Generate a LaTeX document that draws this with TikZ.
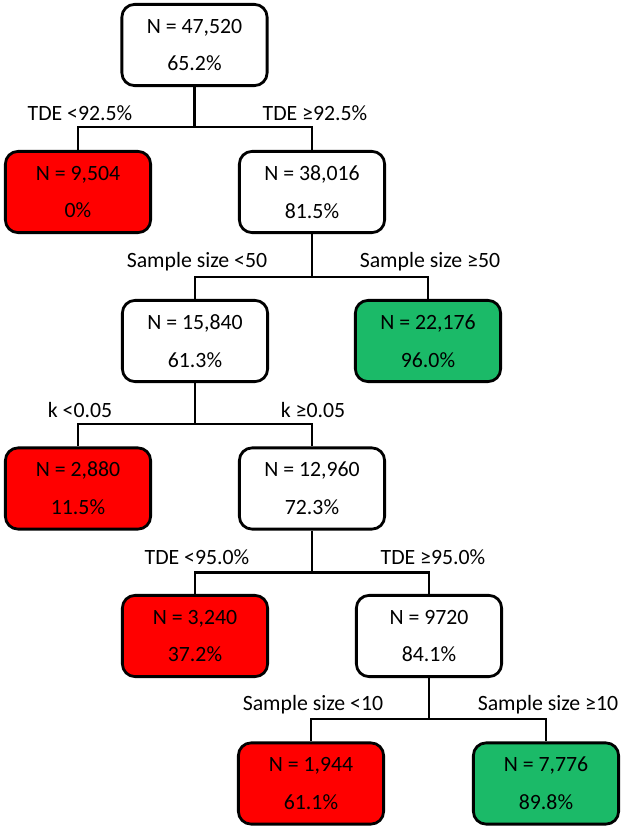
\documentclass[tikz,border=0pt]{standalone}
\usepackage{fontspec}
\setmainfont{Carlito}
\definecolor{leafred}{RGB}{255,0,0}
\definecolor{leafgreen}{RGB}{27,186,104}

\begin{document}
\begin{tikzpicture}[x=0.025cm, y=-0.025cm]
            \useasboundingbox (0,0) rectangle (624,830);
            {
                \tikzset{every node/.style = {font=\fontsize{15.5}{27}\selectfont}}
                \tikzset{split/.style = {draw, line width=2pt, rounded corners=9pt, minimum width=3.63cm, minimum height=2.03cm, align=center, inner sep=0pt}}
                \tikzset{bad/.style = {split, fill=leafred}}
                \tikzset{good/.style = {split, fill=leafgreen}}

                \node[split] (root) at (194.5, 45) {N = 47,520\\65.2\%};
                \node[bad]   (tdelo) at (78, 192) {N = 9,504\\0\%};
                \node[split] (tdehi) at (312, 192) {N = 38,016\\81.5\%};
                \node[split] (sslo) at (195, 341) {N = 15,840\\61.3\%};
                \node[good]  (sshi) at (428, 341) {N = 22,176\\96.0\%};
                \node[bad]   (klo) at (78, 488.5) {N = 2,880\\11.5\%};
                \node[split] (khi) at (312, 488.5) {N = 12,960\\72.3\%};
                \node[bad]   (tdbtlo) at (195, 636) {N = 3,240\\37.2\%};
                \node[split] (tdbthi) at (429, 636) {N = 9720\\84.1\%};
                \node[bad]   (smlo) at (311, 783.5) {N = 1,944\\61.1\%};
                \node[good]  (smhi) at (546, 783.5) {N = 7,776\\89.8\%};

                % split conditions above each branch
                \node (ltdelo) at (80, 113) {TDE <92.5\%};
                \node (ltdehi) at (315, 113) {TDE ≥92.5\%};
                \node (lsslo) at (197, 262) {Sample size <50};
                \node (lsshi) at (430, 262) {Sample size ≥50};
                \node (lklo) at (80, 410) {k <0.05};
                \node (lkhi) at (313, 410) {k ≥0.05};
                \node (ltdbtlo) at (197, 557) {TDE <95.0\%};
                \node (ltdbthi) at (433, 557) {TDE ≥95.0\%};
                \node (lsmlo) at (313, 705) {Sample size <10};
                \node (lsmhi) at (548, 705) {Sample size ≥10};
            }

            % elbow connectors from parent to children
            \tikzset{branch/.style = {line width=1.5pt}}
            \draw[branch] (root.south) -- ++(0, 40) -| (tdelo.north);
            \draw[branch] (root.south) -- ++(0, 40) -| (tdehi.north);
            \draw[branch] (tdehi.south) -- ++(0, 43) -| (sslo.north);
            \draw[branch] (tdehi.south) -- ++(0, 43) -| (sshi.north);
            \draw[branch] (sslo.south) -- ++(0, 41) -| (klo.north);
            \draw[branch] (sslo.south) -- ++(0, 41) -| (khi.north);
            \draw[branch] (khi.south) -- ++(0, 42) -| (tdbtlo.north);
            \draw[branch] (khi.south) -- ++(0, 42) -| (tdbthi.north);
            \draw[branch] (tdbthi.south) -- ++(0, 41) -| (smlo.north);
            \draw[branch] (tdbthi.south) -- ++(0, 41) -| (smhi.north);

        \end{tikzpicture}
\end{document}
